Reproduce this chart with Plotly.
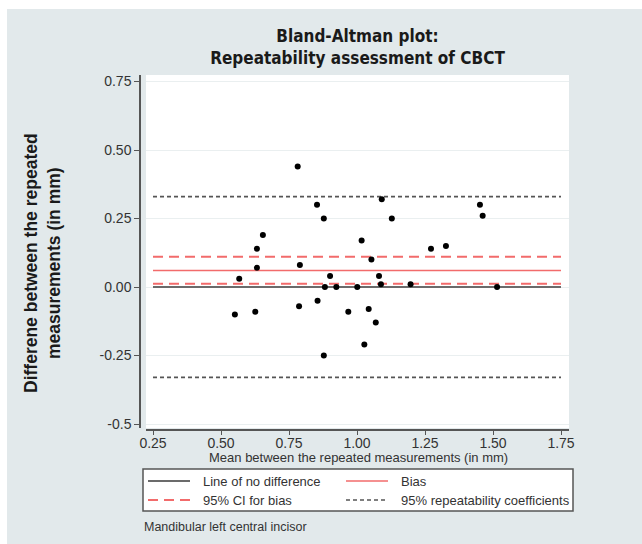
import plotly.graph_objects as go

# ---- data ----
mean_vals = [0.782, 0.853, 0.878, 1.091, 1.128, 1.452, 1.462, 0.654, 0.632, 0.632,
             0.567, 1.017, 1.272, 1.327, 0.790, 1.053, 0.901, 1.081, 1.088, 1.197,
             0.882, 0.924, 1.001, 1.515, 0.551, 0.626, 0.787, 0.855, 0.968, 1.043,
             1.069, 1.027, 0.878]
diff_vals = [0.44, 0.30, 0.25, 0.32, 0.25, 0.30, 0.26, 0.19, 0.14, 0.07,
             0.03, 0.17, 0.14, 0.15, 0.08, 0.10, 0.04, 0.04, 0.01, 0.01,
             0.00, 0.00, 0.00, 0.00, -0.10, -0.09, -0.07, -0.05, -0.09, -0.08,
             -0.13, -0.21, -0.25]
line_x = [0.25, 1.75]
no_diff = 0.0
bias = 0.06
ci_bias = [0.11, 0.012]
rep_coef = [0.33, -0.33]
x_ticks = [0.25, 0.50, 0.75, 1.00, 1.25, 1.50, 1.75]
x_ticktext = ["0.25", "0.50", "0.75", "1.00", "1.25", "1.50", "1.75"]
y_ticks = [0.75, 0.50, 0.25, 0.0, -0.25, -0.5]
y_ticktext = ["0.75", "0.50", "0.25", "0.00", "-0.25", "-0.5"]
legend_labels = ["Line of no difference", "Bias", "95% CI for bias",
                 "95% repeatability coefficients"]

W, H = 642, 544
ML, MR, MT, MB = 140, 73, 75, 114
PW, PH = W - ML - MR, H - MT - MB


def px_x(p):
    return (p - ML) / PW


def px_y(p):
    return (H - MB - p) / PH


PANEL = "#e2e9eb"
GREY_LINE = "#6b6b6b"
REP_GREY = "#555555"
RED = "#f26b6b"

NO_DIFF_STYLE = dict(color=GREY_LINE, width=2)
BIAS_STYLE = dict(color=RED, width=1.6)
CI_STYLE = dict(color=RED, width=2, dash="10px,6px")
REP_STYLE = dict(color=REP_GREY, width=1.6, dash="4px,3px")

# plotting region (white) is inset a few px from the axis lines
X_DOM0 = px_x(146)
Y_DOM0 = px_y(428)
x0v = 0.25 + (146 - 153) / 272.0
x1v = 0.25 + (W - MR - 153) / 272.0
y1v = (287 - MT) / 274.0
y0v = (287 - 428) / 274.0

fig = go.Figure()

fig.add_trace(go.Scatter(x=line_x, y=[no_diff, no_diff], mode="lines",
                         line=NO_DIFF_STYLE, name=legend_labels[0], showlegend=False))
fig.add_trace(go.Scatter(x=line_x, y=[bias, bias], mode="lines",
                         line=BIAS_STYLE, name=legend_labels[1], showlegend=False))
for v in ci_bias:
    fig.add_trace(go.Scatter(x=line_x, y=[v, v], mode="lines",
                             line=CI_STYLE, name=legend_labels[2], showlegend=False))
for v in rep_coef:
    fig.add_trace(go.Scatter(x=line_x, y=[v, v], mode="lines",
                             line=REP_STYLE, name=legend_labels[3], showlegend=False))

fig.add_trace(go.Scatter(x=mean_vals, y=diff_vals, mode="markers",
                         marker=dict(color="black", size=6),
                         showlegend=False, hoverinfo="x+y"))

shapes = [
    # white border strips around the grey panel
    dict(type="rect", xref="paper", yref="paper",
         x0=px_x(-5), x1=px_x(7), y0=px_y(H + 5), y1=px_y(-5),
         fillcolor="white", line=dict(width=0), layer="above"),
    dict(type="rect", xref="paper", yref="paper",
         x0=px_x(-5), x1=px_x(W + 5), y0=px_y(9), y1=px_y(-5),
         fillcolor="white", line=dict(width=0), layer="above"),
]

# manual legend box
LEG_L, LEG_R, LEG_T, LEG_B = 143, 573, 469, 511
shapes.append(dict(type="rect", xref="paper", yref="paper",
                   x0=px_x(LEG_L), x1=px_x(LEG_R), y0=px_y(LEG_B), y1=px_y(LEG_T),
                   fillcolor="white", line=dict(color="#555555", width=1.5),
                   layer="above"))
leg_items = [
    (legend_labels[0], NO_DIFF_STYLE, 148, 201, 481),
    (legend_labels[1], BIAS_STYLE, 346, 399, 481),
    (legend_labels[2], CI_STYLE, 148, 201, 500),
    (legend_labels[3], REP_STYLE, 346, 399, 500),
]
annotations = []
for label, style, sx, tx, ry in leg_items:
    ln = dict(color=style["color"], width=style["width"])
    if "dash" in style:
        ln["dash"] = style["dash"]
    shapes.append(dict(type="line", xref="paper", yref="paper",
                       x0=px_x(sx), x1=px_x(sx + 42), y0=px_y(ry), y1=px_y(ry),
                       line=ln, layer="above"))
    annotations.append(dict(text=label, xref="paper", yref="paper",
                            x=px_x(tx), y=px_y(ry), xanchor="left", yanchor="middle",
                            showarrow=False, font=dict(size=13, color="#333333")))

annotations.append(dict(text="Mandibular left central incisor", xref="paper", yref="paper",
                        x=px_x(142), y=px_y(527), xanchor="left", yanchor="middle",
                        showarrow=False, font=dict(size=12.5, color="#333333")))
# axis titles
annotations.append(dict(text="Mean between the repeated measurements (in mm)",
                        xref="paper", yref="paper", x=px_x(358), y=px_y(458),
                        xanchor="center", yanchor="middle", showarrow=False,
                        font=dict(size=13, color="#333333")))
annotations.append(dict(text="<b>Differene between the repeated<br>measurements (in mm)</b>",
                        xref="paper", yref="paper", x=px_x(42), y=px_y(263),
                        xanchor="center", yanchor="middle", showarrow=False,
                        textangle=-90,
                        font=dict(size=17.5, color="#1a1a1a")))

fig.update_layout(
    width=W, height=H,
    margin=dict(l=ML, r=MR, t=MT, b=MB, pad=0),
    paper_bgcolor=PANEL,
    plot_bgcolor="white",
    shapes=shapes,
    annotations=annotations,
    showlegend=False,
    font=dict(family="Liberation Sans, Arial, sans-serif", color="#333333"),
    title=dict(
        text="<b>Bland-Altman plot:<br>Repeatability assessment of CBCT</b>",
        x=357.5 / W, xanchor="center",
        y=1 - 42 / H, yanchor="top",
        font=dict(family="Liberation Sans Narrow, DejaVu Sans Condensed, Arial Narrow, sans-serif",
                  size=17, color="#1a1a1a"),
    ),
    xaxis=dict(
        domain=[X_DOM0, 1], anchor="free", position=0,
        range=[x0v, x1v], tickvals=x_ticks, ticktext=x_ticktext,
        showgrid=False, zeroline=False,
        showline=True, linecolor="#555555", linewidth=1.5,
        ticks="outside", ticklen=4, tickcolor="#555555", tickwidth=1.2,
        ticklabelstandoff=-4,
        tickfont=dict(size=14, color="#333333"),
    ),
    yaxis=dict(
        domain=[Y_DOM0, 1], anchor="free", position=0,
        range=[y0v, y1v], tickvals=y_ticks, ticktext=y_ticktext,
        showgrid=True, gridcolor="#eaeff0", gridwidth=1, zeroline=False,
        showline=True, linecolor="#555555", linewidth=1.5,
        ticks="outside", ticklen=5, tickcolor="#555555", tickwidth=1.2,
        tickfont=dict(size=14, color="#333333"),
    ),
)

fig.write_html("out.html")
